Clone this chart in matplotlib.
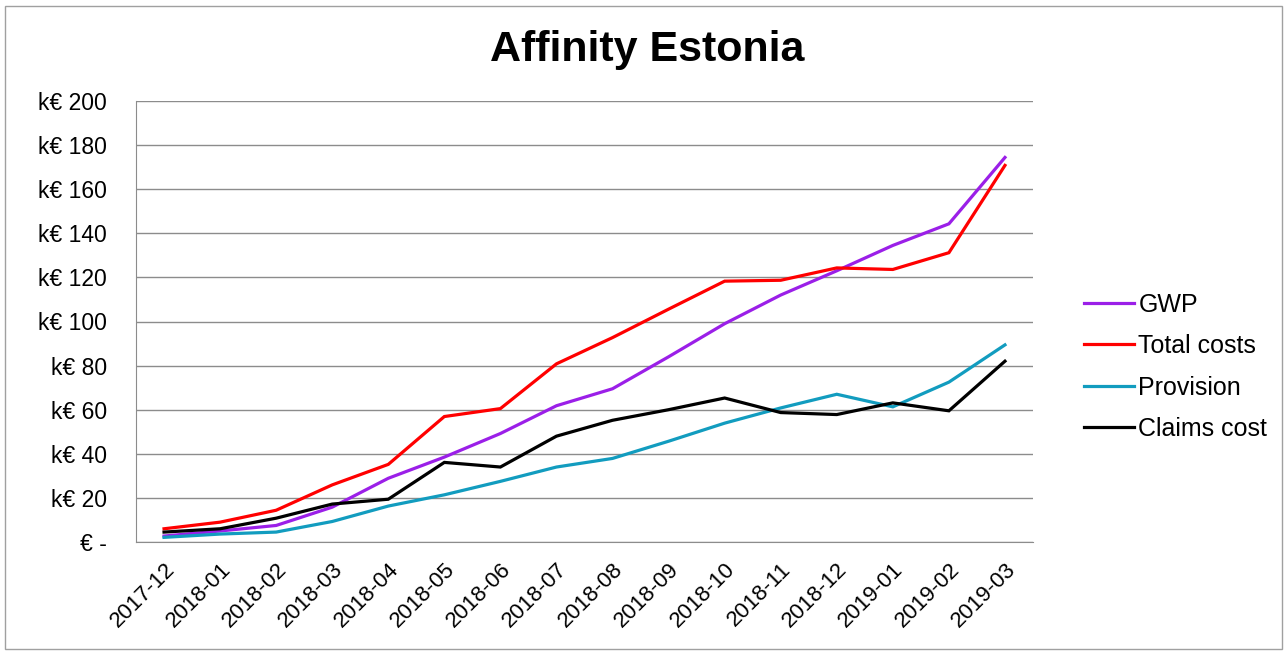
import matplotlib.pyplot as plt
import matplotlib.transforms as mtrans
from matplotlib.patches import Rectangle

plt.rcParams['font.family'] = ['Liberation Sans', 'DejaVu Sans']

months = ['2017-12', '2018-01', '2018-02', '2018-03', '2018-04', '2018-05',
          '2018-06', '2018-07', '2018-08', '2018-09', '2018-10', '2018-11',
          '2018-12', '2019-01', '2019-02', '2019-03']

gwp = [2.7, 5.0, 7.5, 15.8, 28.9, 38.5, 49.2, 61.8, 69.5, 84.0, 99.0,
       112.0, 123.0, 134.5, 144.3, 174.4]
total_costs = [6.0, 9.0, 14.4, 25.9, 35.2, 56.9, 60.5, 80.8, 92.7, 105.6,
               118.3, 118.7, 124.3, 123.6, 131.2, 170.8]
provision = [2.1, 3.6, 4.5, 9.3, 16.3, 21.4, 27.5, 34.0, 37.9, 45.7, 53.9,
             60.8, 67.0, 61.3, 72.5, 89.4]
claims_cost = [4.5, 6.0, 10.8, 17.2, 19.4, 36.1, 34.0, 48.0, 55.2, 60.0,
               65.3, 58.7, 57.8, 63.1, 59.5, 82.0]

y_ticks = [0, 20, 40, 60, 80, 100, 120, 140, 160, 180, 200]
y_labels = ['€ -'] + [f'k€ {v}' for v in y_ticks[1:]]

fig = plt.figure(figsize=(12.85, 6.51), dpi=100)
fig.patches.append(Rectangle((5 / 1285, 2 / 651), 1277 / 1285, 643 / 651,
                             transform=fig.transFigure, fill=False,
                             edgecolor='#a0a0a0', linewidth=1))

ax = fig.add_axes([136 / 1285, 1 - 542 / 651, 897 / 1285, 441 / 651])

series = [
    ('GWP', gwp, '#9b1fe8'),
    ('Total costs', total_costs, '#ff0000'),
    ('Provision', provision, '#129cbf'),
    ('Claims cost', claims_cost, '#000000'),
]
x = range(len(months))
for name, vals, col in series:
    ax.plot(x, vals, color=col, linewidth=2.3, label=name,
            solid_joinstyle='miter')

ax.set_xlim(-0.5, len(months) - 0.5)
ax.set_ylim(0, 200)
ax.set_yticks(y_ticks)
ax.set_yticklabels(y_labels, fontsize=16.5)
ax.set_xticks(list(x))
ax.set_xticklabels(months, rotation=45, ha='right', va='top',
                   rotation_mode='anchor', fontsize=16)
shift = mtrans.ScaledTranslation(-6 / 72, 0, fig.dpi_scale_trans)
for lab in ax.get_xticklabels():
    lab.set_transform(lab.get_transform() + shift)
ax.tick_params(axis='both', length=0)
ax.tick_params(axis='y', pad=21)
ax.tick_params(axis='x', pad=12)
ax.grid(axis='y', color='#8c8c8c', linewidth=1)
ax.set_axisbelow(True)
for s in ['top', 'right']:
    ax.spines[s].set_visible(False)
for s in ['left', 'bottom']:
    ax.spines[s].set_color('#8c8c8c')

fig.text(647 / 1285, 1 - 50 / 651, 'Affinity Estonia', ha='center',
         va='center', fontsize=31, fontweight='bold')

ax.legend(loc='center left', bbox_to_anchor=(1.057, 0.397), frameon=False,
          fontsize=18, handlelength=2.0, handletextpad=0.17,
          labelspacing=0.7, borderaxespad=0, borderpad=0)

fig.savefig('out.png', dpi=100)
